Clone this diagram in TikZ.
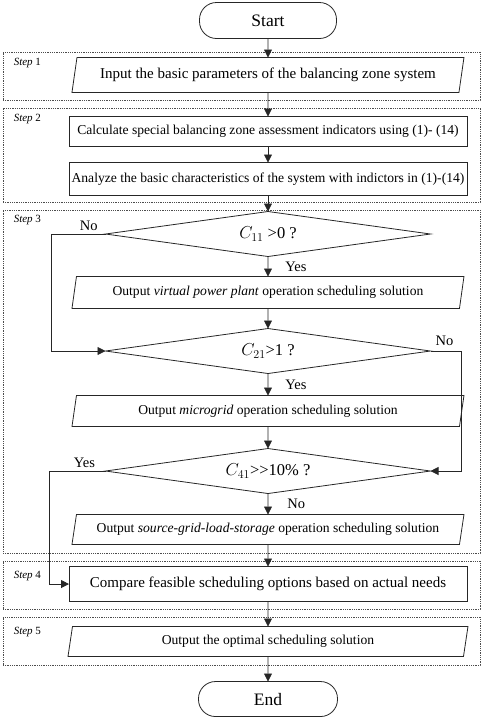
\documentclass[tikz,border=0pt]{standalone}
\usepackage{fontspec}
\setmainfont{Liberation Serif}
\usetikzlibrary{arrows.meta,positioning,shapes.geometric,fit}
\tikzset{
  terminal/.style={
    rectangle,
    rounded corners=17pt,
    draw=black!85,
    line width=0.8pt,
    outer sep=0pt,
    minimum width=137pt,
    minimum height=36pt,
    font=\fontsize{17.5}{20}\selectfont
  },
  procbox/.style={
    rectangle,
    draw=black!85,
    line width=0.8pt,
    outer sep=0pt,
    minimum width=398pt,
    minimum height=31pt,
    inner sep=0pt,
    font=\fontsize{13.6}{16}\selectfont
  },
  bigprocbox/.style={
    procbox,
    minimum height=35pt,
    font=\fontsize{15}{18}\selectfont
  },
  iobox/.style={
    trapezium,
    trapezium left angle=70,
    trapezium right angle=110,
    trapezium stretches body,
    draw=black!85,
    line width=0.8pt,
    outer sep=0pt,
    minimum width=392pt,
    minimum height=31pt,
    inner sep=0pt,
    font=\fontsize{13.6}{16}\selectfont
  },
  bigiobox/.style={
    iobox,
    minimum height=35pt,
    font=\fontsize{15}{18}\selectfont
  },
  decision/.style={
    diamond,
    aspect=7,
    draw=black!85,
    line width=0.8pt,
    outer sep=0pt,
    minimum width=325pt,
    minimum height=45pt,
    inner sep=0pt,
    font=\fontsize{16.5}{19}\selectfont
  },
  stepframe/.style={
    rectangle,
    draw=black!70,
    densely dotted,
    line width=0.8pt,
    inner sep=0pt
  },
  steplabel/.style={
    anchor=north west,
    inner sep=0pt,
    font=\fontsize{11}{13}\selectfont
  },
  yesno/.style={
    inner sep=2pt,
    font=\fontsize{14.5}{17}\selectfont
  },
  arrow/.style={
    -{Triangle[length=8pt,width=8pt]},
    line width=0.8pt,
    draw=black!85
  }
}

\begin{document}
\begin{tikzpicture}[x=1pt, y=-1pt, node distance=20pt]
  \useasboundingbox (0,0) rectangle (484,721);

  % step frames
  \node[stepframe, fit={(3,52) (480,100)}] (step1) {};
  \node[stepframe, fit={(3,108) (480,202)}] (step2) {};
  \node[stepframe, fit={(3,210) (480,553)}] (step3) {};
  \node[stepframe, fit={(3,561) (480,609)}] (step4) {};
  \node[stepframe, fit={(3,617) (480,665)}] (step5) {};
  \node[steplabel] at ([shift={(11pt,-6pt)}]step1.north west) {\textit{Step} 1};
  \node[steplabel] at ([shift={(11pt,-6pt)}]step2.north west) {\textit{Step} 2};
  \node[steplabel] at ([shift={(11pt,-5pt)}]step3.north west) {\textit{Step} 3};
  \node[steplabel] at ([shift={(11pt,-10pt)}]step4.north west) {\textit{Step} 4};
  \node[steplabel] at ([shift={(11pt,-10pt)}]step5.north west) {\textit{Step} 5};

  % flow
  \node[terminal] (start) at (268,20.5) {Start};
  \node[bigiobox, below=19pt of start] (input) {Input the basic parameters of the balancing zone system};
  \node[procbox, below=24pt of input, minimum height=30pt] (calc) {Calculate special balancing zone assessment indicators using (1)- (14)};
  \node[procbox, below=16pt of calc, minimum height=33pt] (analyze) {Analyze the basic characteristics of the system with indictors in (1)-(14)};
  \node[decision, below=16pt of analyze] (cvpp) {$C_{11}$ >0 ?};
  \node[iobox, below=of cvpp, minimum height=32pt] (vpp) {Output \textit{virtual power plant} operation scheduling solution};
  \node[decision, below=of vpp] (cmg) {$C_{21}$>1 ?};
  \node[iobox, below=22pt of cmg] (mg) {Output \textit{microgrid} operation scheduling solution};
  \node[decision, below=22pt of mg] (csgls) {$C_{41}$>{}>10\% ?};
  \node[iobox, below=21pt of csgls, minimum height=30pt] (sgls) {Output \textit{source-grid-load-storage} operation scheduling solution};
  \node[bigprocbox, below=22pt of sgls] (compare) {Compare feasible scheduling options based on actual needs};
  \node[iobox, below=25pt of compare, minimum height=30pt, minimum width=400pt] (optimal) {Output the optimal scheduling solution};
  \node[terminal, below=25pt of optimal, minimum width=139pt, minimum height=35pt] (end) {End};

  \draw[arrow] (start) -- (input);
  \draw[arrow] (input) -- (calc);
  \draw[arrow] (calc) -- (analyze);
  \draw[arrow] (analyze) -- (cvpp);
  \draw[arrow] (cvpp) -- node[yesno, right=15pt] {Yes} (vpp);
  \draw[arrow] (vpp) -- (cmg);
  \draw[arrow] (cmg) -- node[yesno, right=15pt] {Yes} (mg);
  \draw[arrow] (mg) -- (csgls);
  \draw[arrow] (csgls) -- node[yesno, right=17pt] {No} (sgls);
  \draw[arrow] (sgls) -- (compare);
  \draw[arrow] (compare) -- (optimal);
  \draw[arrow] (optimal) -- (end);

  % side branches
  \draw[arrow] (cvpp.west) -- ++(-54,0) node[yesno, pos=0.31, above=1pt] {No} |- (cmg.west);
  \draw[arrow] (cmg.east) -- ++(31,0) node[yesno, pos=0.45, above=3pt] {No} |- (csgls.east);
  \draw[arrow] (csgls.west) -- ++(-56,0) node[yesno, pos=0.375, above=1pt] {Yes} |- (compare.west);
\end{tikzpicture}
\end{document}
